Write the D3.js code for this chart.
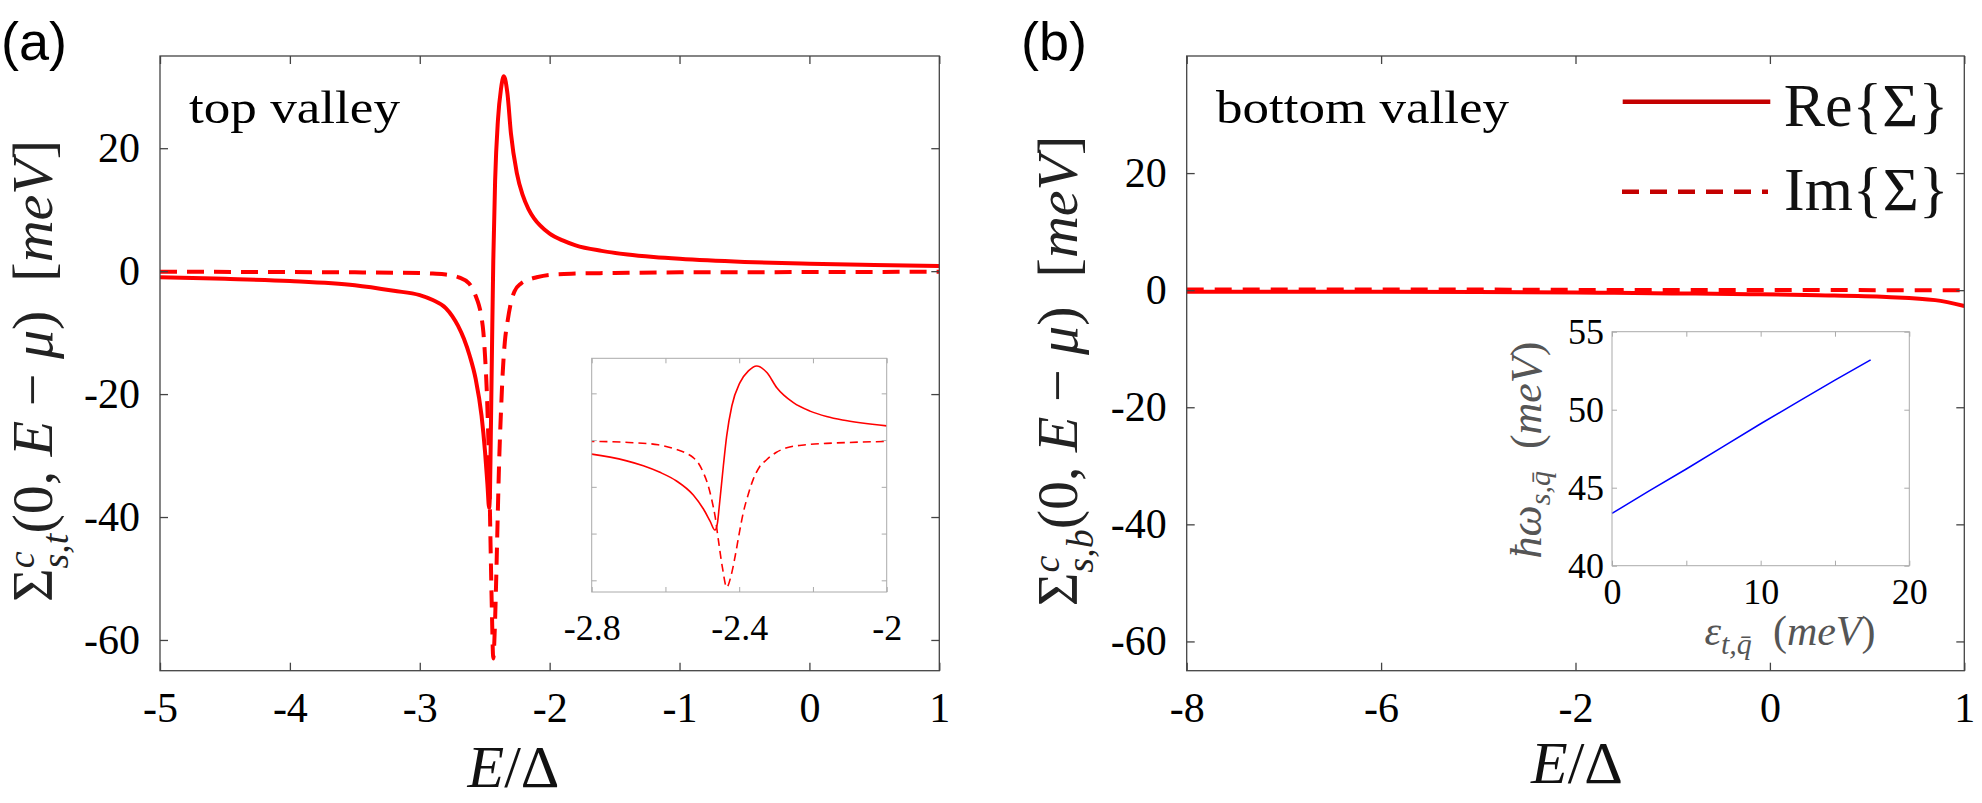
<!DOCTYPE html>
<html>
<head>
<meta charset="utf-8">
<script src="https://cdn.jsdelivr.net/npm/d3@7"></script>
<style>
  html, body { margin: 0; padding: 0; background: #fff; }
  svg { display: block; }
</style>
</head>
<body>
<svg id="chart" width="1982" height="803"></svg>
<script>
// ---------- DATA ----------
// Panel (a): top valley
const reE = [-5,-4.5,-4,-3.5,-3.2,-3,-2.9,-2.8,-2.75,-2.705,-2.66,-2.615,-2.57,-2.5245,-2.497,-2.479,-2.466,-2.459,-2.454,-2.443,-2.434,-2.42,-2.398,-2.375,-2.3525,-2.325,-2.298,-2.253,-2.208,-2.163,-2.12,-2.072,-2.0,-1.9,-1.8,-1.6,-1.4,-1.2,-1.0,-0.5,0,0.5,1];
const reV = [-1.0,-1.25,-1.6,-2.3,-3.2,-3.9,-4.7,-6.0,-7.3,-8.9,-11.0,-13.8,-17.5,-23.5,-29.5,-34.7,-38.5,-35.5,-28.3,-11.1,1.7,14.6,24.6,29.6,31.7,28.9,22.4,16.0,12.4,10.1,8.6,7.4,6.1,5.0,4.2,3.3,2.7,2.3,2.0,1.5,1.2,1.0,0.83];
const imE = [-5,-4,-3.5,-3,-2.9,-2.8,-2.7,-2.62,-2.57,-2.545,-2.5245,-2.51,-2.497,-2.485,-2.4746,-2.465,-2.4567,-2.445,-2.434,-2.422,-2.411,-2.4,-2.389,-2.375,-2.362,-2.345,-2.325,-2.3,-2.271,-2.22,-2.163,-2.1,-2.0,-1.8,-1.5,-1,0,1];
const imV = [-0.1,-0.15,-0.2,-0.3,-0.4,-0.55,-1.0,-2.0,-4.0,-5.5,-7.5,-10,-14,-19,-25.4,-33,-42.5,-55,-63,-58,-49.7,-40,-31.1,-23,-16.8,-11.5,-8.3,-5.3,-3.3,-2.0,-1.4,-1.0,-0.6,-0.4,-0.3,-0.2,-0.15,-0.1];

// Panel (b): bottom valley
const bE  = [-8,-6,-4,-2,-1.6,-1,-0.2,0.25,0.6,0.85,1];
const bRe = [-0.25,-0.28,-0.32,-0.4,-0.46,-0.55,-0.68,-0.85,-1.15,-1.7,-2.7];
const bIm = [0.1,0.1,0.1,0.05,0.05,0.05,0.05,0.05,0.0,0.0,0.0];

// Inset (b): phonon energy vs epsilon
const insX = [0,2.5,5,7.5,10,12.5,15,17.4];
const insY = [43.35,44.8,46.2,47.65,49.1,50.5,51.9,53.2];

// Ticks
const aXTicks = [-5,-4,-3,-2,-1,0,1];
const aYTicks = [20,0,-20,-40,-60];
const bXTicks = [-8,-6,-2,0,1];
const bYTicks = [20,0,-20,-40,-60];
const iaXTicks = [-2.8,-2.6,-2.4,-2.2,-2];
const iaXLabels = [-2.8,-2.4,-2];
const iaYTicks = [20,0,-20,-40,-60];
const ibXTicks = [0,5,10,15,20];
const ibXLabels = [0,10,20];
const ibYTicks = [40,45,50,55];

// ---------- SETUP ----------
const svg = d3.select("#chart");
const SERIF = "'Liberation Serif', serif";
const RED = "#ff0000";
const defs = svg.append("defs");

function frame(g, x, y, xTicks, yTicks, opt) {
  const [x0, x1] = [x.range()[0], x.range()[x.range().length-1]];
  const [y0, y1] = [y.range()[0], y.range()[1]];
  const ts = opt.tick;
  const bottom = g.append("g").attr("transform", `translate(0,${y0})`)
    .call(d3.axisBottom(x).tickValues(xTicks).tickSizeInner(-ts).tickSizeOuter(0)
      .tickPadding(opt.xPad).tickFormat(opt.xFormat));
  const top = g.append("g").attr("transform", `translate(0,${y1})`)
    .call(d3.axisTop(x).tickValues(xTicks).tickSizeInner(-ts).tickSizeOuter(0).tickFormat(""));
  const left = g.append("g").attr("transform", `translate(${x0},0)`)
    .call(d3.axisLeft(y).tickValues(yTicks).tickSizeInner(-ts).tickSizeOuter(0)
      .tickPadding(opt.yPad).tickFormat(opt.yFormat));
  const right = g.append("g").attr("transform", `translate(${x1},0)`)
    .call(d3.axisRight(y).tickValues(yTicks).tickSizeInner(-ts).tickSizeOuter(0).tickFormat(""));
  [bottom, top, left, right].forEach(a => {
    a.attr("font-family", null).attr("font-size", null);
    a.select(".domain").remove();
    a.selectAll(".tick line").attr("stroke", opt.color).attr("stroke-width", opt.sw);
    a.selectAll("text").style("font-family", SERIF).style("font-size", opt.fontSize + "px").attr("fill", "#000");
  });
  g.append("rect").attr("x", x0).attr("y", y1).attr("width", x1 - x0).attr("height", y0 - y1)
    .attr("fill", "none").attr("stroke", opt.color).attr("stroke-width", opt.sw);
}

function clipRect(id, x, y) {
  const x0 = x.range()[0], x1 = x.range()[x.range().length-1];
  defs.append("clipPath").attr("id", id).append("rect")
    .attr("x", x0).attr("y", y.range()[1]).attr("width", x1 - x0).attr("height", y.range()[0] - y.range()[1]);
}

const fmt = d => String(d);

// ---------- PANEL (a) ----------
const xa = d3.scaleLinear().domain([-5, 1]).range([160, 939.3]);
const ya = d3.scaleLinear().domain([-65, 35]).range([670.7, 56]);
const ga = svg.append("g");
clipRect("clipA", xa, ya);
const lineA = d3.line().x(d => xa(d[0])).y(d => ya(d[1])).curve(d3.curveMonotoneX);
const reData = reE.map((e, i) => [e, reV[i]]);
const imData = imE.map((e, i) => [e, imV[i]]);
ga.append("path").attr("d", lineA(imData)).attr("fill", "none").attr("stroke", RED)
  .attr("stroke-width", 4).attr("stroke-dasharray", "17,10").attr("clip-path", "url(#clipA)");
ga.append("path").attr("d", lineA(reData)).attr("fill", "none").attr("stroke", RED)
  .attr("stroke-width", 4).attr("clip-path", "url(#clipA)");
frame(ga, xa, ya, aXTicks, aYTicks, {tick: 8, fontSize: 42, xPad: 21, yPad: 20, color: "#444", sw: 1.3,
  xFormat: fmt, yFormat: fmt});

// inset (a)
const xia = d3.scaleLinear().domain([-2.8, -2]).range([591.7, 886.7]);
const yia = d3.scaleLinear().domain([-65, 35]).range([592, 358.3]);
const gia = svg.append("g");
gia.append("rect").attr("x", 591.7).attr("y", 358.3).attr("width", 295).attr("height", 233.7).attr("fill", "#fff");
clipRect("clipIA", xia, yia);
const lineIA = d3.line().x(d => xia(d[0])).y(d => yia(d[1])).curve(d3.curveMonotoneX);
gia.append("path").attr("d", lineIA(imData)).attr("fill", "none").attr("stroke", RED)
  .attr("stroke-width", 1.6).attr("stroke-dasharray", "8,5").attr("clip-path", "url(#clipIA)");
gia.append("path").attr("d", lineIA(reData)).attr("fill", "none").attr("stroke", RED)
  .attr("stroke-width", 1.6).attr("clip-path", "url(#clipIA)");
frame(gia, xia, yia, iaXTicks, iaYTicks, {tick: 5, fontSize: 36, xPad: 22, yPad: 10, color: "#aaa", sw: 1,
  xFormat: d => iaXLabels.includes(d) ? fmt(d) : "", yFormat: ""});

// ---------- PANEL (b) ----------
const bx0 = 1186.7, bx1 = 1964.3, bstep = (bx1 - bx0) / 4;
const xb = d3.scaleLinear().domain(bXTicks).range(bXTicks.map((d, i) => bx0 + i * bstep));
const yb = d3.scaleLinear().domain([-65, 40]).range([670.7, 56]);
const gb = svg.append("g");
clipRect("clipB", xb, yb);
const lineB = d3.line().x(d => xb(d[0])).y(d => yb(d[1])).curve(d3.curveMonotoneX);
gb.append("path").attr("d", lineB(bE.map((e, i) => [e, bRe[i]]))).attr("fill", "none").attr("stroke", RED)
  .attr("stroke-width", 4).attr("clip-path", "url(#clipB)");
gb.append("path").attr("d", lineB(bE.map((e, i) => [e, bIm[i]]))).attr("fill", "none").attr("stroke", RED)
  .attr("stroke-width", 4).attr("stroke-dasharray", "17,11").attr("clip-path", "url(#clipB)");
frame(gb, xb, yb, bXTicks, bYTicks, {tick: 8, fontSize: 42, xPad: 21, yPad: 20, color: "#444", sw: 1.3,
  xFormat: fmt, yFormat: fmt});

// inset (b)
const xib = d3.scaleLinear().domain([0, 20]).range([1612, 1909.3]);
const yib = d3.scaleLinear().domain([40, 55]).range([565.7, 331.7]);
const gib = svg.append("g");
gib.append("rect").attr("x", 1612).attr("y", 331.7).attr("width", 297.3).attr("height", 234).attr("fill", "#fff");
const lineIB = d3.line().x(d => xib(d[0])).y(d => yib(d[1]));
gib.append("path").attr("d", lineIB(insX.map((e, i) => [e, insY[i]]))).attr("fill", "none")
  .attr("stroke", "#0000ff").attr("stroke-width", 1.5);
frame(gib, xib, yib, ibXTicks, ibYTicks, {tick: 5, fontSize: 36, xPad: 13, yPad: 8, color: "#aaa", sw: 1,
  xFormat: d => ibXLabels.includes(d) ? String(d) : "", yFormat: d => String(d)});

// ---------- TEXT ----------
svg.append("text").attr("x", 1).attr("y", 60).style("font-family", "'Liberation Sans', Arial, sans-serif")
  .style("font-size", "54px").text("(a)");
svg.append("text").attr("x", 1021).attr("y", 60).style("font-family", "'Liberation Sans', Arial, sans-serif")
  .style("font-size", "54px").text("(b)");

svg.append("text").attr("x", 189).attr("y", 123).style("font-family", SERIF).style("font-size", "46px")
  .attr("textLength", 211).attr("lengthAdjust", "spacingAndGlyphs").text("top valley");
svg.append("text").attr("x", 1216).attr("y", 123).style("font-family", SERIF).style("font-size", "46px")
  .attr("textLength", 293).attr("lengthAdjust", "spacingAndGlyphs").text("bottom valley");

// legend
const LEG = "#c40000";
svg.append("line").attr("x1", 1622.7).attr("x2", 1770.3).attr("y1", 101.7).attr("y2", 101.7)
  .attr("stroke", LEG).attr("stroke-width", 4.5);
svg.append("line").attr("x1", 1622).attr("x2", 1768).attr("y1", 191.7).attr("y2", 191.7)
  .attr("stroke", LEG).attr("stroke-width", 4.5).attr("stroke-dasharray", "17,11");
svg.append("text").attr("x", 1783.7).attr("y", 126).style("font-family", SERIF).style("font-size", "62px")
  .attr("fill", "#111").text("Re{\u03A3}");
svg.append("text").attr("x", 1784).attr("y", 210).style("font-family", SERIF).style("font-size", "62px")
  .attr("fill", "#111").text("Im{\u03A3}");

// y axis labels
function yLabel(cx, cy, sub) {
  const t = svg.append("text").attr("transform", `translate(${cx},${cy}) rotate(-90)`)
    .attr("text-anchor", "middle").style("font-family", SERIF).style("font-size", "58px").attr("fill", "#222");
  t.append("tspan").text("\u03A3");
  t.append("tspan").attr("font-style", "italic").style("font-size", "38px").attr("dy", -18).text("c");
  t.append("tspan").attr("font-style", "italic").style("font-size", "38px").attr("dx", -17).attr("dy", 34).text(sub);
  t.append("tspan").attr("dy", -16).text("(0, ");
  t.append("tspan").attr("font-style", "italic").text("E");
  t.append("tspan").text(" \u2212 ");
  t.append("tspan").attr("font-style", "italic").text("\u03BC");
  t.append("tspan").text(")\u2002[");
  t.append("tspan").attr("font-style", "italic").text("meV");
  t.append("tspan").text("]");
}
yLabel(52, 371, "s,t");
yLabel(1077, 371, "s,b");

// x axis labels
function xLabel(cx, by) {
  const t = svg.append("text").attr("x", cx).attr("y", by).attr("text-anchor", "middle")
    .style("font-family", SERIF).style("font-size", "60px").attr("fill", "#111");
  t.append("tspan").attr("font-style", "italic").text("E");
  t.append("tspan").text("/\u0394");
}
xLabel(513.5, 787);
xLabel(1577, 783);

// inset (b) labels
const il = svg.append("text").attr("transform", "translate(1541,450) rotate(-90)")
  .attr("text-anchor", "middle").style("font-family", SERIF).style("font-size", "44px").attr("fill", "#555");
il.append("tspan").attr("font-style", "italic").text("\u0127\u03C9");
il.append("tspan").attr("font-style", "italic").style("font-size", "30px").attr("dy", 9).text("s,q\u0304");
il.append("tspan").attr("dy", -9).text("\u2002(");
il.append("tspan").attr("font-style", "italic").text("meV");
il.append("tspan").text(")");

const xl = svg.append("text").attr("x", 1790).attr("y", 645)
  .attr("text-anchor", "middle").style("font-family", SERIF).style("font-size", "42px").attr("fill", "#555");
xl.append("tspan").attr("font-style", "italic").text("\u03B5");
xl.append("tspan").attr("font-style", "italic").style("font-size", "30px").attr("dy", 9).text("t,q\u0304");
xl.append("tspan").attr("dy", -9).text("\u2002(");
xl.append("tspan").attr("font-style", "italic").text("meV");
xl.append("tspan").text(")");
</script>
</body>
</html>
